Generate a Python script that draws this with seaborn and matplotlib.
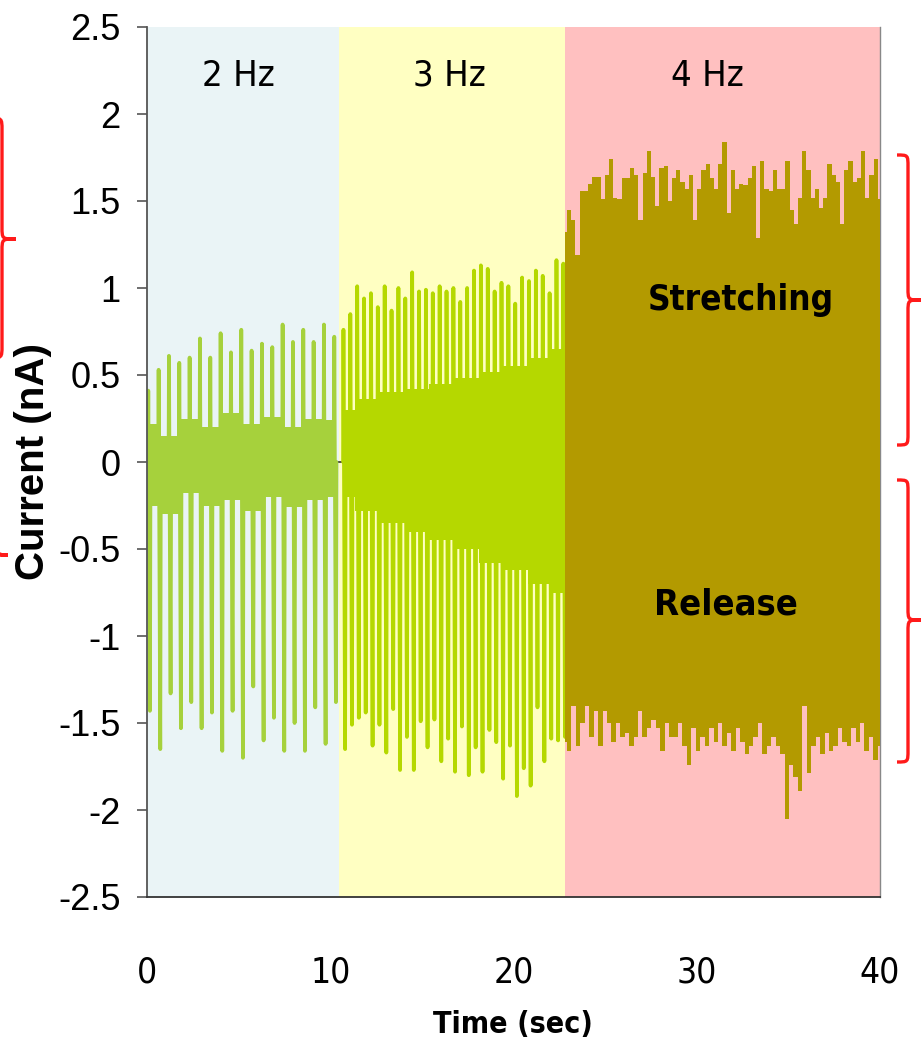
import numpy as np
import pandas as pd
import matplotlib
matplotlib.use("Agg")
import matplotlib.pyplot as plt
import seaborn as sns
from matplotlib.path import Path
from matplotlib.patches import PathPatch
from matplotlib import font_manager as fm

# stimulation windows (sec)
seg_bounds = [0.0, 10.5, 22.8, 40.0]
seg_labels = ["2 Hz", "3 Hz", "4 Hz"]
seg_bg = ["#eaf4f6", "#ffffc2", "#ffc0c0"]
trace_colors = ["#a6d13c", "#b5d800", "#b39a00"]

# 2 Hz: spike peaks (nA)
hz2_span = [0.05, 10.2]
hz2_pos = [0.41, 0.53, 0.61, 0.57, 0.60, 0.71, 0.60, 0.74, 0.63, 0.76,
           0.64, 0.68, 0.66, 0.79, 0.69, 0.76, 0.69, 0.79, 0.72]
hz2_neg = [-1.43, -1.65, -1.33, -1.53, -1.38, -1.53, -1.44, -1.66, -1.43, -1.70,
           -1.29, -1.60, -1.47, -1.66, -1.50, -1.66, -1.41, -1.62, -1.38]
hz2_band_top = [0.22, 0.15, 0.25, 0.20, 0.28, 0.22, 0.26, 0.20, 0.25, 0.24]
hz2_band_bot = [-0.25, -0.30, -0.18, -0.25, -0.22, -0.28, -0.20, -0.26, -0.22, -0.20]

# 3 Hz
hz3_span = [10.7, 22.7]
hz3_pos = [0.76, 0.85, 1.01, 0.94, 0.97, 0.89, 1.01, 0.87, 1.00, 0.94, 1.09,
           0.98, 0.99, 0.97, 1.01, 0.98, 1.00, 0.92, 1.00, 1.10, 1.13, 1.11,
           0.98, 1.03, 1.01, 0.91, 1.06, 1.04, 1.10, 1.07, 0.97, 1.16, 1.14]
hz3_neg = [-1.65, -1.51, -1.47, -1.44, -1.63, -1.51, -1.67, -1.42, -1.77, -1.58, -1.77,
           -1.49, -1.64, -1.48, -1.72, -1.59, -1.78, -1.52, -1.80, -1.64, -1.78, -1.54,
           -1.61, -1.82, -1.63, -1.92, -1.76, -1.86, -1.41, -1.72, -1.59, -1.60, -1.58]
hz3_band_top = [0.30, 0.36, 0.40, 0.42, 0.45, 0.48, 0.52, 0.55, 0.60, 0.65]
hz3_band_bot = [-0.20, -0.28, -0.35, -0.40, -0.45, -0.50, -0.58, -0.62, -0.70, -0.75]

# 4 Hz: envelope of the dense response
hz4_span = [22.8, 40.0]
hz4_upper = [1.32, 1.45, 1.39, 1.19, 1.56, 1.56, 1.60, 1.64, 1.64, 1.51, 1.65, 1.74,
             1.52, 1.51, 1.63, 1.63, 1.69, 1.65, 1.39, 1.66, 1.79, 1.64, 1.47, 1.69,
             1.70, 1.50, 1.63, 1.68, 1.61, 1.57, 1.65, 1.39, 1.57, 1.68, 1.71, 1.63,
             1.57, 1.71, 1.84, 1.43, 1.68, 1.57, 1.60, 1.59, 1.63, 1.70, 1.29, 1.73,
             1.57, 1.56, 1.68, 1.57, 1.57, 1.73, 1.45, 1.37, 1.52, 1.79, 1.68, 1.52,
             1.57, 1.46, 1.52, 1.71, 1.65, 1.61, 1.37, 1.68, 1.73, 1.61, 1.63, 1.79,
             1.52, 1.65, 1.74, 1.51]
hz4_lower = [-1.61, -1.66, -1.40, -1.63, -1.50, -1.40, -1.58, -1.43, -1.63, -1.43,
             -1.50, -1.61, -1.50, -1.58, -1.56, -1.63, -1.58, -1.43, -1.58, -1.53,
             -1.48, -1.53, -1.66, -1.50, -1.58, -1.58, -1.50, -1.63, -1.74, -1.53,
             -1.66, -1.58, -1.63, -1.53, -1.61, -1.50, -1.63, -1.56, -1.66, -1.53,
             -1.61, -1.68, -1.63, -1.58, -1.50, -1.68, -1.63, -1.58, -1.63, -1.68,
             -2.05, -1.74, -1.81, -1.89, -1.40, -1.79, -1.63, -1.58, -1.68, -1.56,
             -1.66, -1.63, -1.53, -1.61, -1.63, -1.53, -1.61, -1.50, -1.66, -1.58,
             -1.71, -1.63]

y_ticks = [2.5, 2, 1.5, 1, 0.5, 0, -0.5, -1, -1.5, -2, -2.5]
y_ticklabels = ["2.5", "2", "1.5", "1", "0.5", "0", "-0.5", "-1", "-1.5", "-2", "-2.5"]
x_ticks = [0, 10, 20, 30, 40]

W, H = 921, 1054
ARIAL = ["Liberation Sans", "DejaVu Sans"]
_names = {f.name for f in fm.fontManager.ttflist}
if "Liberation Sans Narrow" in _names:
    NARROW = dict(family="Liberation Sans Narrow")
    NSCALE = 1.0
else:
    NARROW = dict(family="DejaVu Sans", stretch="condensed")
    NSCALE = 0.87


def spike_trace(span, pos, neg):
    t = np.linspace(span[0], span[1], len(pos))
    rows = []
    for i, (p, n) in enumerate(zip(pos, neg)):
        rows += [(t[i], 0.0), (t[i] + 0.02, p), (t[i] + 0.11, n), (t[i] + 0.14, 0.0)]
    return pd.DataFrame(rows, columns=["Time", "Current"])


def brace(fig, xl, xs, xt, ytop, ybot, ymid, r=12, color="#ff1a1a"):
    # curly brace in pixel coords (origin top-left)
    pts = [(xl, ytop), (xs, ytop), (xs, ytop), (xs, ytop + r),
           (xs, ymid - r),
           (xs, ymid), (xs, ymid), (xt, ymid),
           (xs, ymid), (xs, ymid), (xs, ymid + r),
           (xs, ybot - r),
           (xs, ybot), (xs, ybot), (xl, ybot)]
    codes = [Path.MOVETO, Path.CURVE4, Path.CURVE4, Path.CURVE4,
             Path.LINETO,
             Path.CURVE4, Path.CURVE4, Path.CURVE4,
             Path.CURVE4, Path.CURVE4, Path.CURVE4,
             Path.LINETO,
             Path.CURVE4, Path.CURVE4, Path.CURVE4]
    verts = [(x / W, (H - y) / H) for x, y in pts]
    patch = PathPatch(Path(verts, codes), transform=fig.transFigure,
                      fill=False, edgecolor=color, lw=2.4, clip_on=False)
    fig.patches.append(patch)


sns.set_style("white")
fig = plt.figure(figsize=(W / 100, H / 100), dpi=100)
ax = fig.add_axes([147 / W, 1 - 897 / H, 733 / W, 870 / H])

for i in range(3):
    ax.axvspan(seg_bounds[i], seg_bounds[i + 1], color=seg_bg[i], lw=0, zorder=0)

ax.axhline(0, color="#333333", lw=1.2, zorder=1)

# baseline noise bands
for span, top, bot, c in [(hz2_span, hz2_band_top, hz2_band_bot, trace_colors[0]),
                          (hz3_span, hz3_band_top, hz3_band_bot, trace_colors[1])]:
    tb = np.linspace(span[0], span[1] + 0.1, len(top))
    ax.fill_between(tb, bot, top, step="mid", color=c, lw=0, zorder=2)

# 4 Hz block
tu = np.linspace(hz4_span[0], hz4_span[1], len(hz4_upper))
tl = np.linspace(hz4_span[0], hz4_span[1], len(hz4_lower))
ax.fill_between(tu, 0, hz4_upper, step="mid", color=trace_colors[2], lw=0, zorder=3)
ax.fill_between(tl, hz4_lower, 0, step="mid", color=trace_colors[2], lw=0, zorder=3)

# 2 Hz and 3 Hz spike trains
for span, pos, neg, c in [(hz2_span, hz2_pos, hz2_neg, trace_colors[0]),
                          (hz3_span, hz3_pos, hz3_neg, trace_colors[1])]:
    df = spike_trace(span, pos, neg)
    sns.lineplot(data=df, x="Time", y="Current", sort=False, estimator=None,
                 color=c, lw=2.7, ax=ax, zorder=2)

ax.set_xlim(0, 40)
ax.set_ylim(-2.5, 2.5)
ax.set_yticks(y_ticks)
ax.set_yticklabels(y_ticklabels, fontsize=26, family=ARIAL, color="black")
ax.set_xticks(x_ticks)
ax.set_xticklabels([str(v) for v in x_ticks], fontsize=28 * NSCALE + 1, color="black", **NARROW)
ax.tick_params(axis="y", direction="out", length=7, width=1.2, color="#555555", pad=12, left=True)
ax.tick_params(axis="x", length=0, pad=42)

ax.spines["top"].set_visible(False)
ax.spines["left"].set_color("#555555")
ax.spines["left"].set_linewidth(1.3)
ax.spines["bottom"].set_color("#333333")
ax.spines["bottom"].set_linewidth(1.3)
ax.spines["right"].set_color("#888888")
ax.spines["right"].set_linewidth(1.0)

ax.set_ylabel("Current (nA)", fontsize=29, fontweight="bold", family=ARIAL, color="black")
ax.yaxis.set_label_coords(-0.13, 0.5)
ax.set_xlabel("Time (sec)", fontsize=25 * NSCALE, fontweight="bold", color="black", **NARROW)
ax.xaxis.set_label_coords(0.499, -0.13)

for lab, xc in zip(seg_labels, [5.0, 16.5, 30.6]):
    ax.text(xc, 2.22, lab, fontsize=30 * NSCALE, color="black", ha="center", va="center",
            zorder=5, **NARROW)
ax.text(32.4, 0.93, "Stretching", fontsize=29 * NSCALE, fontweight="bold", color="black",
        ha="center", va="center", zorder=5, **NARROW)
ax.text(31.6, -0.82, "Release", fontsize=30 * NSCALE, fontweight="bold", color="black",
        ha="center", va="center", zorder=5, **NARROW)

# red braces
brace(fig, -12, 2, 16, 118, 358, 239)
brace(fig, -22, -8, 8, 440, 670, 555)
brace(fig, 897, 908, 921, 155, 445, 300)
brace(fig, 897, 908, 921, 480, 762, 620)

fig.savefig("out.png", dpi=100)
